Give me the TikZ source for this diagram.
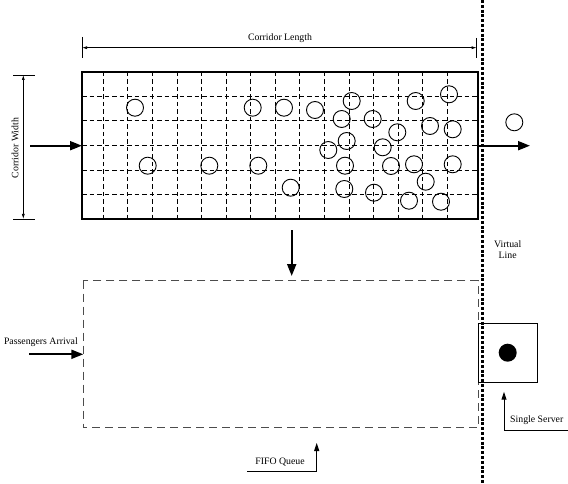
\documentclass[tikz,border=0pt]{standalone}
\usepackage{fontspec}
\setmainfont{Liberation Serif}
\usetikzlibrary{arrows.meta}
\usetikzlibrary{positioning}

\begin{document}
\begin{tikzpicture}[x=1pt,y=-1pt,
  flow/.style={line width=2pt,-{Triangle[length=12pt,width=9pt]}},
  pointer/.style={line width=1pt,-{Triangle[length=8pt,width=5pt]}},
  dimline/.style={line width=0.7pt,{Latex[length=5pt,width=3pt]}-{Latex[length=5pt,width=3pt]}},
  person/.style={circle,draw,line width=0.9pt,minimum size=17pt,inner sep=0pt},
  gridline/.style={line width=0.9pt,dash pattern=on 4.5pt off 3pt},
  txt/.style={font=\fontsize{9.8}{11}\selectfont,inner sep=1pt}]
\useasboundingbox (0,0) rectangle (568,484);

\draw[line width=1.5pt] (82,72) rectangle (478,219);
\foreach \i in {0,...,14}
  \draw[gridline] (103.3+24.57*\i,72) -- ++(0,147);
\foreach \y in {96,120,145.7,170,194}
  \draw[gridline] (82,\y) -- (478,\y);

\foreach \px/\py [count=\k] in {135/107.7,252.7/107.7,284/107.7,315/110,351.7/101,341.7/119,372.7/119,
  346.7/141,328.3/150,397.3/132.3,415.7/101,449/94.3,430/126,452.7/129.3,382.7/147.3,
  147.7/165.7,209.3/165.7,258.3/165.7,345/165.7,391/166,414/164.3,452.7/164.3,
  425.7/181.7,290.7/187.7,344.3/189,374/192.7,409/200.7,441/201.7,514.3/122.3}
  \node[person] (p\k) at (\px,\py) {};

\coordinate (lenL) at (82,47.7);
\coordinate (lenR) at (476.7,47.7);
\draw[line width=0.8pt] (82,37) -- (82,58);
\draw[line width=0.8pt] (476.7,38) -- (476.7,58);
\draw[dimline] (lenL) -- (lenR);
\node[txt] (lenlbl) at (280,38) {Corridor Length};

\coordinate (widT) at (23.3,75);
\coordinate (widB) at (23.3,219);
\draw[line width=0.8pt] (13,75) -- (35,75);
\draw[line width=0.8pt] (13,219) -- (35,219);
\draw[dimline] (widT) -- (widB);
\node[txt,rotate=90] (widlbl) at (15,148) {Corridor Width};

\coordinate (inA) at (30,145.7);
\coordinate (inB) at (82,145.7);
\coordinate (outA) at (478,145.7);
\coordinate (outB) at (530,145.7);
\coordinate (downA) at (291.7,230);
\coordinate (downB) at (291.7,276);
\draw[flow] (inA) -- (inB);
\draw[flow] (outA) -- (outB);
\draw[flow] (downA) -- (downB);

\draw[line width=3pt,dash pattern=on 3pt off 1.8pt] (482.7,0) -- (482.7,484);
\node[txt,align=center] (vline) at (507.7,250) {Virtual\\Line};

\draw[line width=1.3pt,gray!60!black,dash pattern=on 8pt off 5pt] (83.3,280.5) rectangle (478.3,427.5);

\coordinate (arrA) at (29,354.3);
\coordinate (arrB) at (83.3,354.3);
\draw[flow] (arrA) -- (arrB);
\node[txt,anchor=east] (arrlbl) at (79,341.7) {Passengers Arrival};

\draw[line width=0.9pt] (478.3,323.3) rectangle (537.3,382.3);
\fill (507.7,352.7) circle (9);

\coordinate (srvA) at (568,430);
\coordinate (srvB) at (504,430);
\coordinate (srvC) at (504,391.7);
\draw[pointer] (srvA) -- (srvB) -- (srvC);
\node[txt,anchor=west] (srvlbl) at (509,420) {Single Server};

\coordinate (fifoA) at (247,471);
\coordinate (fifoB) at (316.7,471);
\coordinate (fifoC) at (316.7,443);
\draw[pointer] (fifoA) -- (fifoB) -- (fifoC);
\node[txt] (fifolbl) at (280,462) {FIFO Queue};
\end{tikzpicture}
\end{document}
